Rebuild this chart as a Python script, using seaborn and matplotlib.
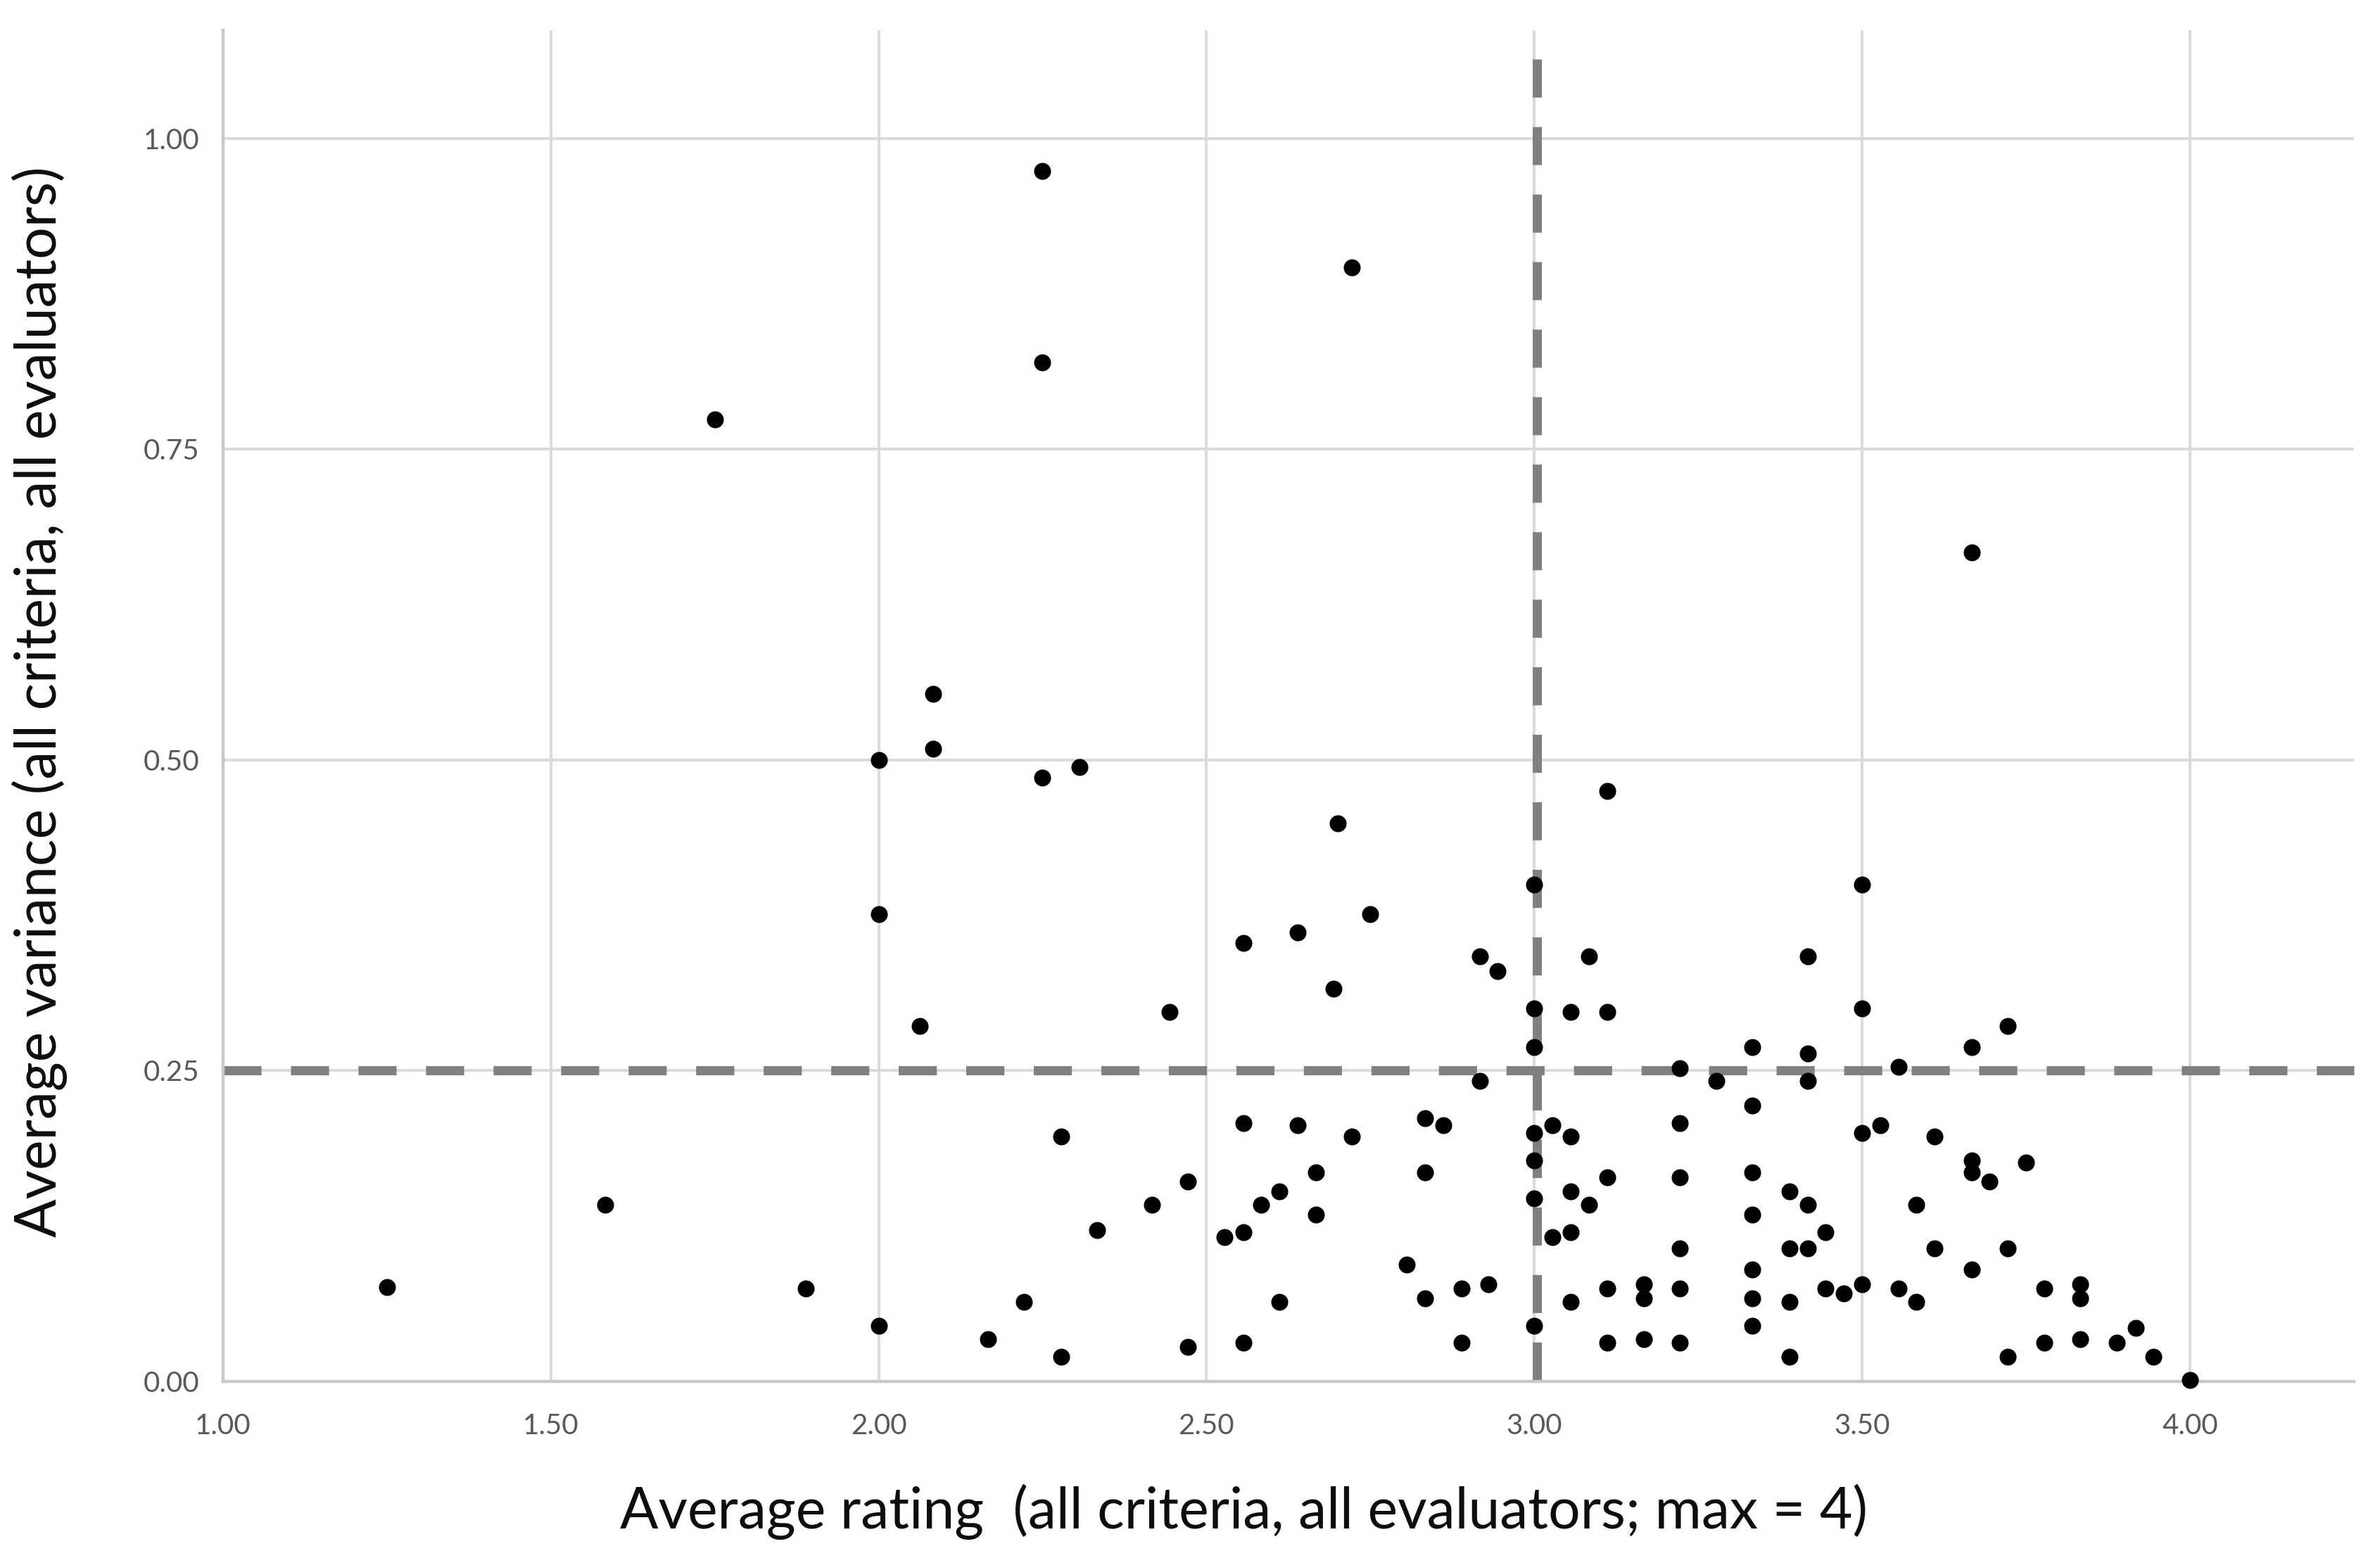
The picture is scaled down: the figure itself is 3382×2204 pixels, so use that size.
import matplotlib
matplotlib.use("Agg")
import matplotlib.pyplot as plt
import seaborn as sns
import pandas as pd

# average rating per item (all criteria, all evaluators; max = 4)
avg_rating = [
    1.250, 1.583, 1.750, 1.889, 2.000, 2.000, 2.000, 2.063, 2.083, 2.083,
    2.167, 2.222, 2.250, 2.250, 2.250, 2.278, 2.278, 2.306, 2.333, 2.417,
    2.444, 2.472, 2.472, 2.528, 2.556, 2.556, 2.556, 2.556, 2.583, 2.611,
    2.611, 2.639, 2.639, 2.667, 2.667, 2.694, 2.700, 2.722, 2.722, 2.750,
    2.806, 2.833, 2.833, 2.833, 2.861, 2.889, 2.889, 2.917, 2.917, 2.944,
    2.930, 3.000, 3.000, 3.000, 3.000, 3.000, 3.000, 3.000, 3.028, 3.028,
    3.056, 3.056, 3.056, 3.056, 3.056, 3.083, 3.083, 3.111, 3.111, 3.111,
    3.111, 3.111, 3.167, 3.167, 3.167, 3.222, 3.222, 3.222, 3.222, 3.222,
    3.222, 3.278, 3.333, 3.333, 3.333, 3.333, 3.333, 3.333, 3.333, 3.389,
    3.389, 3.389, 3.389, 3.417, 3.417, 3.417, 3.417, 3.417, 3.444, 3.444,
    3.472, 3.500, 3.500, 3.500, 3.500, 3.528, 3.556, 3.556, 3.583, 3.583,
    3.611, 3.611, 3.667, 3.667, 3.667, 3.667, 3.667, 3.694, 3.722, 3.722,
    3.722, 3.750, 3.778, 3.778, 3.833, 3.833, 3.833, 3.889, 3.917, 3.944,
    4.000,
]

# average variance per item (all criteria, all evaluators)
avg_variance = [
    0.076, 0.142, 0.774, 0.075, 0.500, 0.376, 0.045, 0.286, 0.553, 0.509,
    0.034, 0.064, 0.974, 0.820, 0.486, 0.197, 0.020, 0.494, 0.122, 0.142,
    0.297, 0.161, 0.028, 0.116, 0.353, 0.208, 0.120, 0.031, 0.142, 0.153,
    0.064, 0.361, 0.206, 0.168, 0.134, 0.316, 0.449, 0.197, 0.896, 0.376,
    0.094, 0.212, 0.168, 0.067, 0.206, 0.075, 0.031, 0.342, 0.242, 0.330,
    0.078, 0.400, 0.300, 0.269, 0.200, 0.178, 0.147, 0.045, 0.206, 0.116,
    0.197, 0.297, 0.153, 0.120, 0.064, 0.342, 0.142, 0.475, 0.297, 0.164,
    0.075, 0.031, 0.078, 0.067, 0.034, 0.252, 0.208, 0.164, 0.107, 0.075,
    0.031, 0.242, 0.269, 0.222, 0.168, 0.134, 0.090, 0.067, 0.045, 0.153,
    0.107, 0.064, 0.020, 0.342, 0.264, 0.242, 0.142, 0.107, 0.120, 0.075,
    0.071, 0.400, 0.300, 0.200, 0.078, 0.206, 0.253, 0.075, 0.142, 0.064,
    0.197, 0.107, 0.667, 0.269, 0.178, 0.168, 0.090, 0.161, 0.286, 0.107,
    0.020, 0.176, 0.075, 0.031, 0.078, 0.067, 0.034, 0.031, 0.043, 0.020,
    0.001,
]

x_ticks = [1.0, 1.5, 2.0, 2.5, 3.0, 3.5, 4.0]
y_ticks = [0.0, 0.25, 0.5, 0.75, 1.0]
rating_cut = 3.0
variance_cut = 0.25

df = pd.DataFrame({"rating": avg_rating, "variance": avg_variance})

sns.set_theme(style="whitegrid")
plt.rcParams["font.family"] = ["Lato", "DejaVu Sans"]

fig = plt.figure(figsize=(16.91, 11.02), dpi=200)
ax = fig.add_axes([0.0937, 0.1093, 0.8953, 0.8712])

# reference lines
ax.plot([rating_cut + 0.004, rating_cut + 0.004], [1.064, -0.004], color="#808080", lw=4.7,
        dashes=(4.15, 3.2), solid_capstyle="butt", dash_capstyle="butt",
        clip_on=False, zorder=2)
ax.plot([1.0, 4.25], [variance_cut, variance_cut], color="#808080", lw=4.7,
        dashes=(4.15, 3.2), solid_capstyle="butt", dash_capstyle="butt",
        clip_on=False, zorder=2)

sns.scatterplot(data=df, x="rating", y="variance", ax=ax, color="black",
                s=75, linewidth=0, clip_on=False, zorder=3)

ax.set_xlim(1.0, 4.25)
ax.set_ylim(0.0, 1.087)
ax.set_xticks(x_ticks)
ax.set_yticks(y_ticks)
ax.set_xticklabels([f"{t:.2f}" for t in x_ticks])
ax.set_yticklabels([f"{t:.2f}" for t in y_ticks])
ax.tick_params(axis="both", length=0, labelsize=14.5, labelcolor="#595959")
ax.tick_params(axis="x", pad=16)
ax.tick_params(axis="y", pad=12)

ax.grid(True, color="#d9d9d9", linewidth=1.4)
ax.set_axisbelow(True)
for side in ["top", "right"]:
    ax.spines[side].set_visible(False)
for side in ["left", "bottom"]:
    ax.spines[side].set_color("#c8c8c8")
    ax.spines[side].set_linewidth(1.6)

ax.set_xlabel("Average rating  (all criteria, all evaluators; max = 4)",
              fontsize=29, color="#0d0d0d")
ax.set_ylabel("Average variance (all criteria, all evaluators)",
              fontsize=29, color="#0d0d0d")
ax.xaxis.set_label_coords(0.479, -0.076)
ax.yaxis.set_label_coords(-0.073, 0.503)

fig.savefig("out.png", dpi=200, facecolor="white")
